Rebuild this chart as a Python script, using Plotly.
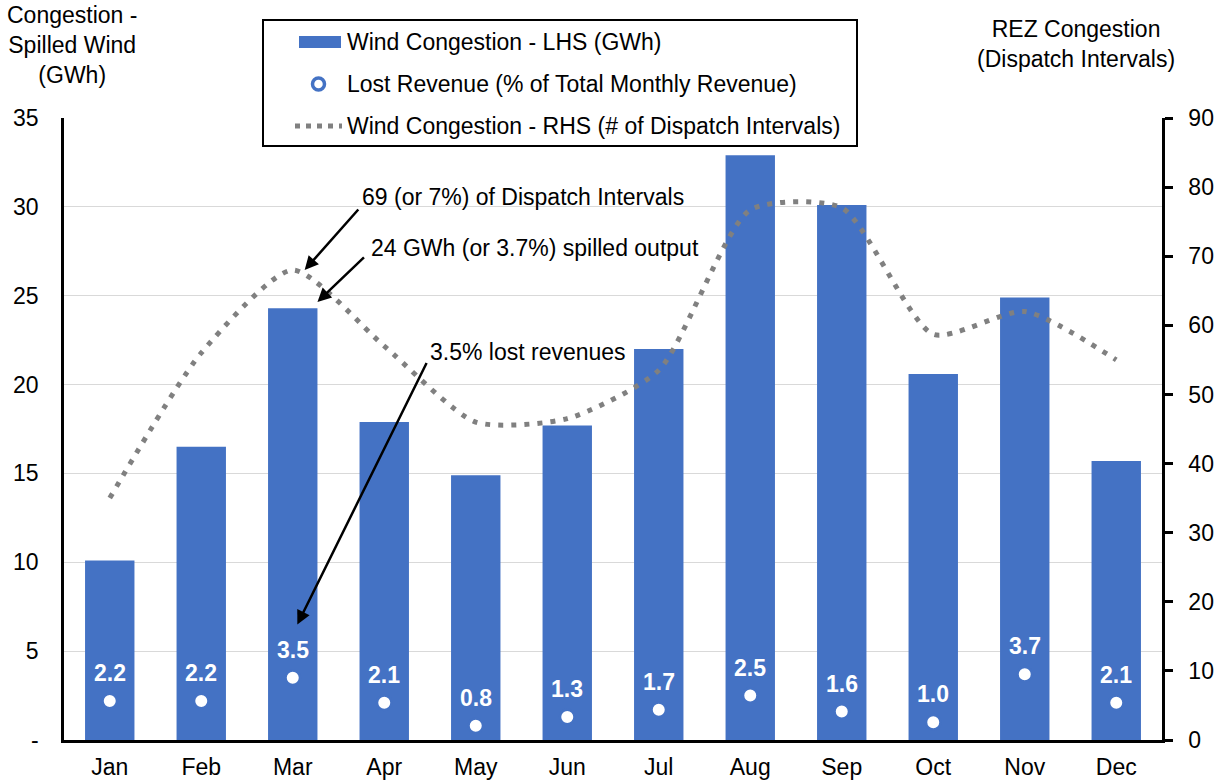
import plotly.graph_objects as go

months = ["Jan", "Feb", "Mar", "Apr", "May", "Jun", "Jul", "Aug", "Sep", "Oct", "Nov", "Dec"]
spilled_gwh = [10.1, 16.5, 24.3, 17.9, 14.9, 17.7, 22.0, 32.9, 30.1, 20.6, 24.9, 15.7]
lost_revenue_pct = [2.2, 2.2, 3.5, 2.1, 0.8, 1.3, 1.7, 2.5, 1.6, 1.0, 3.7, 2.1]
dispatch_intervals = [35, 56, 68, 57, 46, 46.5, 53.5, 76.7, 77, 58.7, 62, 55]
left_ticks = [0, 5, 10, 15, 20, 25, 30, 35]
left_ticktext = ["-", "5", "10", "15", "20", "25", "30", "35"]
legend_names = ["Wind Congestion - LHS (GWh)",
                "Lost Revenue (% of Total Monthly Revenue)",
                "Wind Congestion - RHS (# of Dispatch Intervals)"]

FONT = "Liberation Sans, Arial, sans-serif"
BLUE = "#4472C4"
GREY = "#808080"
FS = 23

W, H = 1214, 781
L, R, T, B = 64, 52, 118, 41
PW, PH = W - L - R, H - T - B


def px(xp):
    return (xp - L) / PW


def py(yp):
    return (H - B - yp) / PH


fig = go.Figure()
fig.add_trace(go.Bar(
    x=months, y=spilled_gwh, name=legend_names[0],
    marker=dict(color=BLUE, line=dict(width=0)),
))
fig.add_trace(go.Scatter(
    x=months, y=lost_revenue_pct, mode="markers", name=legend_names[1],
    marker=dict(color="white", size=14.5, line=dict(color=BLUE, width=2.5)),
))
fig.add_trace(go.Scatter(
    x=months, y=dispatch_intervals, mode="lines", yaxis="y2", name=legend_names[2],
    line=dict(color=GREY, width=5, dash="5px,8px", shape="spline", smoothing=0.65),
))

annotations = []
for m, v in zip(months, lost_revenue_pct):
    annotations.append(dict(
        x=m, y=v, xref="x", yref="y", text=f"<b>{v:.1f}</b>", showarrow=False,
        yshift=28, font=dict(family=FONT, size=FS, color="white"),
    ))

mar = months.index("Mar")
arrow_common = dict(text="", showarrow=True, arrowhead=2, arrowsize=1.1,
                    arrowwidth=2.5, arrowcolor="black", standoff=0)
annotations.append(dict(x=mar + 0.13, y=dispatch_intervals[mar], xref="x", yref="y2",
                        ax=55, ay=-62, **arrow_common))
annotations.append(dict(x=mar + 0.27, y=spilled_gwh[mar] + 0.35, xref="x", yref="y",
                        ax=48, ay=-46, **arrow_common))
annotations.append(dict(x=mar + 0.05, y=lost_revenue_pct[mar] + 3.0, xref="x", yref="y",
                        ax=130, ay=-263, **arrow_common))
for txt, x0, y0 in [("69 (or 7%) of Dispatch Intervals", 360, 197),
                    ("24 GWh (or 3.7%) spilled output", 369, 248),
                    ("3.5% lost revenues", 428, 352)]:
    annotations.append(dict(x=px(x0), y=py(y0), xref="paper", yref="paper", text=txt,
                            showarrow=False, xanchor="left", yanchor="middle",
                            font=dict(family=FONT, size=FS, color="black")))
# axis titles
annotations.append(dict(x=px(72), y=py(45), xref="paper", yref="paper",
                        text="Congestion -<br>Spilled Wind<br>(GWh)", showarrow=False,
                        xanchor="center", yanchor="middle", align="center",
                        font=dict(family=FONT, size=FS, color="black")))
annotations.append(dict(x=px(1076), y=py(44), xref="paper", yref="paper",
                        text="REZ Congestion<br>(Dispatch Intervals)", showarrow=False,
                        xanchor="center", yanchor="middle", align="center",
                        font=dict(family=FONT, size=FS, color="black")))
# legend texts
for name, yy in zip(legend_names, [42, 84, 126]):
    annotations.append(dict(x=px(345), y=py(yy), xref="paper", yref="paper", text=name,
                            showarrow=False, xanchor="left", yanchor="middle",
                            font=dict(family=FONT, size=FS, color="black")))

shapes = [
    dict(type="rect", xref="paper", yref="paper", x0=px(263), x1=px(857),
         y0=py(20), y1=py(146), line=dict(color="black", width=2),
         fillcolor="white", layer="above"),
    dict(type="rect", xref="paper", yref="paper", x0=px(299), x1=px(341),
         y0=py(36), y1=py(48), line=dict(width=0), fillcolor=BLUE, layer="above"),
    dict(type="circle", xref="paper", yref="paper", x0=px(312.5), x1=px(324.5),
         y0=py(78), y1=py(90), line=dict(color=BLUE, width=3.5),
         fillcolor="white", layer="above"),
    dict(type="line", xref="paper", yref="paper", x0=px(295), x1=px(342),
         y0=py(126), y1=py(126), line=dict(color=GREY, width=5, dash="5px,6px"),
         layer="above"),
]

fig.update_layout(
    template="none",
    width=W, height=H, autosize=False,
    margin=dict(l=L, r=R, t=T, b=B, pad=0),
    paper_bgcolor="white", plot_bgcolor="white",
    font=dict(family=FONT, size=FS, color="black"),
    bargap=0.46,
    showlegend=False,
    shapes=shapes,
    annotations=annotations,
    xaxis=dict(type="category", categoryorder="array", categoryarray=months,
               range=[-0.5, 11.5], showline=True, linecolor="black", linewidth=2.5,
               ticks="", showgrid=False, zeroline=False, automargin=False,
               tickfont=dict(family=FONT, size=FS, color="black"), ticklabelstandoff=5),
    yaxis=dict(range=[0, 35], tickvals=left_ticks, ticktext=left_ticktext,
               showgrid=True, gridcolor="#d9d9d9", gridwidth=1, showline=True,
               linecolor="black", linewidth=2.5, ticks="", zeroline=False,
               automargin=False, ticklabelstandoff=18,
               tickfont=dict(family=FONT, size=FS, color="black")),
    yaxis2=dict(range=[0, 90], dtick=10, tick0=0, overlaying="y", side="right",
                showgrid=False, showline=True, linecolor="black", linewidth=2.5,
                ticks="outside", ticklen=8, tickwidth=2.5, tickcolor="black",
                zeroline=False, automargin=False, ticklabelstandoff=11,
                tickfont=dict(family=FONT, size=FS, color="black")),
)

fig.write_html("out.html", config={"displayModeBar": False},
               post_script="document.body.style.margin='0';document.body.style.overflow='hidden';")
